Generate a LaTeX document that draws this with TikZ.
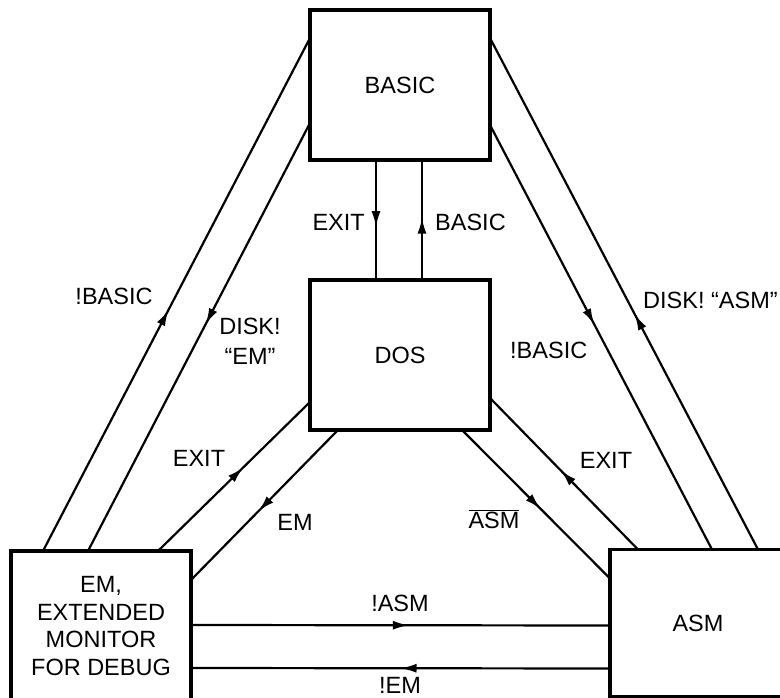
\documentclass[tikz,border=0pt]{standalone}
\usepackage{fontspec}
\setmainfont{Liberation Sans}
\usetikzlibrary{arrows.meta, decorations.markings}

\begin{document}
\begin{tikzpicture}[x=1pt, y=-1pt, font=\fontsize{23.5}{28}\selectfont,
  box/.style={draw, line width=3.5pt, minimum width=180pt, minimum height=150pt,
              inner sep=0pt, outer sep=0pt, align=center},
  link/.style={line width=2.2pt, postaction={decorate},
               decoration={markings, mark=at position #1 with {\arrow{Latex[length=16pt,width=9pt]}}}},
  lbl/.style={inner sep=0pt}]
  \clip (0,0) rectangle (780,698);

  % the four programs
  \node[box] (basic) at (400,85) {BASIC};
  \node[box] (dos) at (400,355) {DOS};
  \node[box, font=\fontsize{23.5}{27.5}\selectfont] (em) at (101,626) {EM,\\EXTENDED\\MONITOR\\FOR DEBUG};
  \node[box, minimum width=176pt, minimum height=147pt] (asm) at (698,623) {ASM};

  % BASIC <-> DOS
  \draw[link=0.56] ([xshift=-24pt]basic.south) -- ([xshift=-24pt]dos.north);
  \draw[link=0.52] ([xshift=22pt]dos.north) -- ([xshift=22pt]basic.south);
  \node[lbl, anchor=east] (exitbd) at (365,222) {EXIT};
  \node[lbl, anchor=west] (basicdb) at (435,222) {BASIC};

  % BASIC <-> EM
  \draw[link=0.47] ([xshift=32pt]em.north west) -- ([yshift=-28pt]basic.north west);
  \draw[link=0.47] ([yshift=-113pt]basic.north west) -- ([xshift=77pt]em.north west);
  \node[lbl] (basicem) at (114,296) {!BASIC};
  \node[lbl, align=center, font=\fontsize{23.5}{30}\selectfont] (diskem) at (250,341) {DISK!\\“EM”};

  % BASIC <-> ASM
  \draw[link=0.46] ([xshift=148pt]asm.north west) -- ([yshift=-28pt]basic.north east);
  \draw[link=0.47] ([yshift=-115pt]basic.north east) -- ([xshift=102pt]asm.north west);
  \node[lbl, anchor=west] (basicasm) at (510,350) {!BASIC};
  \node[lbl, anchor=west] (diskasm) at (643,300) {DISK! “ASM”};

  % DOS <-> EM
  \draw[link=0.56] ([xshift=147pt]em.north west) -- ([yshift=-122pt]dos.north west);
  \draw[link=0.54] ([xshift=28pt]dos.south west) -- ([yshift=-29pt]em.north east);
  \node[lbl] (exitem) at (199,458) {EXIT};
  \node[lbl] (emdos) at (295,522) {EM};

  % DOS <-> ASM
  \draw[link=0.52] ([xshift=28pt]asm.north west) -- ([yshift=-118pt]dos.north east);
  \draw[link=0.53] ([xshift=-28pt]dos.south east) -- ([yshift=-29pt]asm.north west);
  \node[lbl] (exitasm) at (606,460) {EXIT};
  \node[lbl] (asmdos) at (494,519) {$\overline{\mbox{ASM}}$};

  % EM <-> ASM
  \draw[link=0.52] ([yshift=-74pt]em.north east) -- ([yshift=-76pt]asm.north west);
  \draw[link=0.50] ([yshift=-119pt]asm.north west) -- ([yshift=-117pt]em.north east);
  \node[lbl] (asmem) at (400,603) {!ASM};
  \node[lbl] (emasm) at (400,685) {!EM};
\end{tikzpicture}
\end{document}
